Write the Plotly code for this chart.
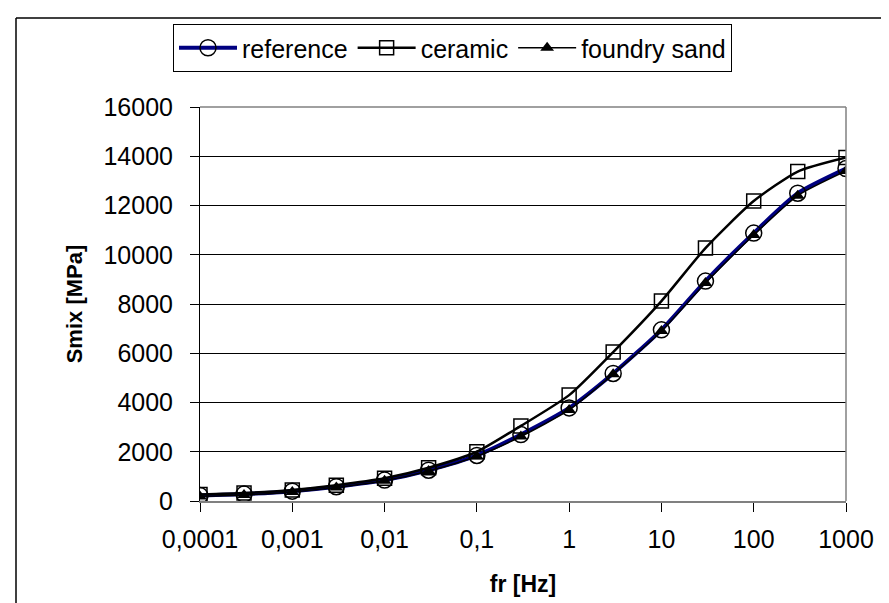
import plotly.graph_objects as go

freq = [0.0001, 0.0003, 0.001, 0.003, 0.01, 0.03, 0.1, 0.3, 1, 3, 10, 30, 100, 300, 1000]
reference = [220, 280, 400, 580, 850, 1250, 1850, 2700, 3780, 5180, 6950, 8930, 10880, 12500, 13500]
ceramic = [260, 320, 450, 640, 920, 1350, 2000, 3050, 4300, 6050, 8120, 10270, 12180, 13380, 13950]
foundry_sand = [180, 240, 370, 550, 820, 1220, 1820, 2620, 3700, 5150, 6900, 8850, 10800, 12400, 13400]

x_tickvals = [0.0001, 0.001, 0.01, 0.1, 1, 10, 100, 1000]
x_ticktext = ["0,0001", "0,001", "0,01", "0,1", "1", "10", "100", "1000"]
y_tickvals = [0, 2000, 4000, 6000, 8000, 10000, 12000, 14000, 16000]
y_ticktext = ["0", "2000", "4000", "6000", "8000", "10000", "12000", "14000", "16000"]

FONT = "Liberation Sans, Arial, sans-serif"

fig = go.Figure()
fig.add_trace(go.Scatter(
    x=freq, y=reference, name="reference", mode="lines+markers",
    line=dict(color="#000080", width=4, shape="spline", smoothing=0.6),
    marker=dict(symbol="circle-open", size=16, color="black", line=dict(width=1.5, color="black")),
))
fig.add_trace(go.Scatter(
    x=freq, y=ceramic, name="ceramic", mode="lines+markers",
    line=dict(color="black", width=2.5, shape="spline", smoothing=0.6),
    marker=dict(symbol="square-open", size=14, color="black", line=dict(width=1.5, color="black")),
))
fig.add_trace(go.Scatter(
    x=freq, y=foundry_sand, name="foundry sand", mode="lines+markers",
    line=dict(color="black", width=1.5, shape="spline", smoothing=0.6),
    marker=dict(symbol="triangle-up", size=12, color="black"),
))

W, H = 889, 603
L, R, T, B = 192, 51, 99, 110
pw, ph = W - L - R, H - T - B

def px_x(px):
    return (px - L) / pw

def px_y(py):
    return (H - B - py) / ph

fig.update_layout(
    width=W, height=H,
    margin=dict(l=L, r=R, t=T, b=B, autoexpand=False),
    paper_bgcolor="white", plot_bgcolor="white",
    font=dict(family=FONT, size=25, color="black"),
    showlegend=True,
    legend=dict(
        orientation="h", x=px_x(165), y=px_y(16), xanchor="left", yanchor="top",
        bordercolor="black", borderwidth=1, bgcolor="white",
        font=dict(family=FONT, size=25, color="black"),
        itemsizing="trace", tracegroupgap=0, itemwidth=58,
    ),
    xaxis=dict(
        type="log", range=[-4, 3], tickvals=x_tickvals, ticktext=x_ticktext,
        showgrid=False, zeroline=False,
        showline=True, linecolor="#808080", linewidth=1.5,
        ticks="outside", ticklen=9, tickcolor="black", tickwidth=1,
        ticklabelstandoff=6,
        title=dict(text="<b>fr [Hz]</b>", font=dict(family=FONT, size=23), standoff=24),
    ),
    yaxis=dict(
        range=[0, 16000], tickvals=y_tickvals, ticktext=y_ticktext,
        showgrid=True, gridcolor="black", gridwidth=1, zeroline=False,
        showline=True, linecolor="black", linewidth=1,
        ticks="outside", ticklen=9, tickcolor="black", tickwidth=1,
        ticklabelstandoff=12,
        title=dict(text="<b>Smix [MPa]</b>", font=dict(family=FONT, size=22), standoff=14),
    ),
    shapes=[
        dict(type="line", xref="paper", yref="paper", x0=1, x1=1, y0=0, y1=1,
             line=dict(color="#808080", width=1.5)),
        dict(type="line", xref="paper", yref="paper", x0=0, x1=1, y0=1, y1=1,
             line=dict(color="#808080", width=1.5)),
        dict(type="line", xref="paper", yref="paper", x0=px_x(8), x1=px_x(8), y0=px_y(620), y1=px_y(10),
             line=dict(color="black", width=1.5)),
        dict(type="line", xref="paper", yref="paper", x0=px_x(8), x1=px_x(900), y0=px_y(10), y1=px_y(10),
             line=dict(color="black", width=1.5)),
    ],
)

fig.write_html("out.html")
